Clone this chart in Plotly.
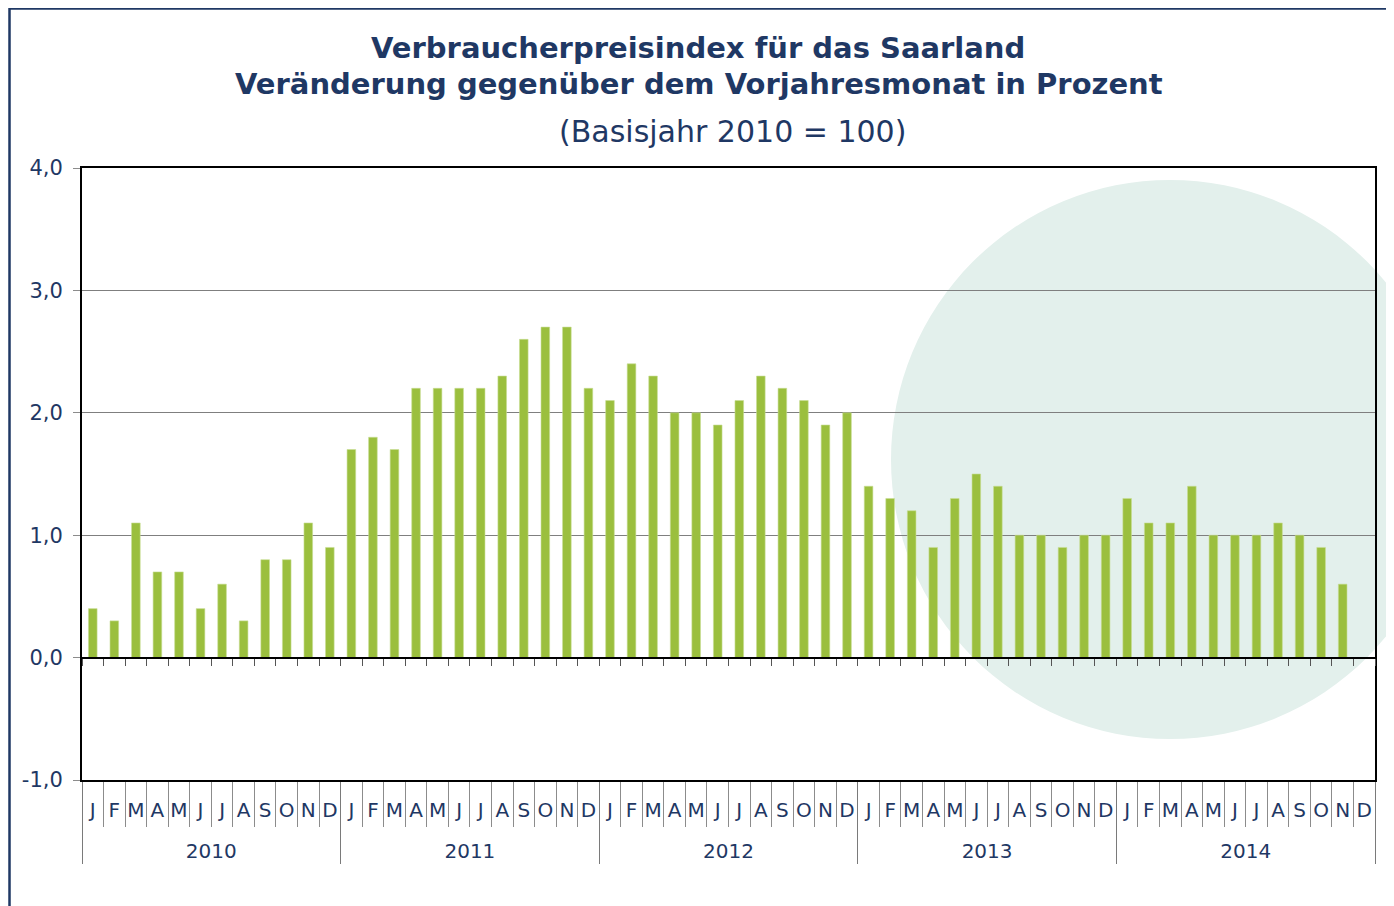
import plotly.graph_objects as go

years = ["2010", "2011", "2012", "2013", "2014"]
months = ["J", "F", "M", "A", "M", "J", "J", "A", "S", "O", "N", "D"]
values = [
    0.4, 0.3, 1.1, 0.7, 0.7, 0.4, 0.6, 0.3, 0.8, 0.8, 1.1, 0.9,   # 2010
    1.7, 1.8, 1.7, 2.2, 2.2, 2.2, 2.2, 2.3, 2.6, 2.7, 2.7, 2.2,   # 2011
    2.1, 2.4, 2.3, 2.0, 2.0, 1.9, 2.1, 2.3, 2.2, 2.1, 1.9, 2.0,   # 2012
    1.4, 1.3, 1.2, 0.9, 1.3, 1.5, 1.4, 1.0, 1.0, 0.9, 1.0, 1.0,   # 2013
    1.3, 1.1, 1.1, 1.4, 1.0, 1.0, 1.0, 1.1, 1.0, 0.9, 0.6, None,  # 2014
]
y_tickvals = [-1, 0, 1, 2, 3, 4]
y_ticktext = ["-1,0", "0,0", "1,0", "2,0", "3,0", "4,0"]

NAVY = "#1F3864"
GREEN = "#9BBF3E"
FONT = "DejaVu Sans"
ZW = "\u200b"

# make repeated month letters distinct categories (invisible suffix);
# an extra empty line pushes the year row down like in the original
seen = {}
month_cats = []
for m in months:
    n = seen.get(m, 0)
    seen[m] = n + 1
    month_cats.append(m + ZW * n + "<br>\u00a0")

x_year = [y for y in years for _ in months]
x_month = [m for _ in years for m in month_cats]
slot_ids = [f"{y}-{i}" for y in years for i in range(12)]

OFF = 8  # page body margin
W, H = 1394 - OFF, 906 - OFF
L, R, T, B = 82 - OFF, 1375 - OFF, 168 - OFF, 780 - OFF
ml, mr, mt, mb = L, W - R, T, H - B
pw, ph = R - L, B - T


def px_x(px):  # page pixel -> paper
    return (px - OFF - L) / pw


def px_y(py):
    return (B - (py - OFF)) / ph


fig = go.Figure()
fig.add_trace(go.Bar(
    x=[x_year, x_month], y=values,
    marker=dict(color=GREEN, line=dict(color="#C8DE94", width=0.6)),
    width=0.4, showlegend=False, hoverinfo="y",
))
# helper trace for the zero-line tick axis
fig.add_trace(go.Scatter(
    x=slot_ids, y=[0] * len(slot_ids), xaxis="x2", mode="markers",
    marker=dict(opacity=0), showlegend=False, hoverinfo="skip",
))

fig.update_layout(
    width=W, height=H,
    margin=dict(l=ml, r=mr, t=mt, b=mb, pad=0),
    paper_bgcolor="white", plot_bgcolor="rgba(0,0,0,0)",
    separators=",.",
    font=dict(family=FONT, color=NAVY),
    xaxis=dict(
        type="multicategory", range=[-0.5, 59.5],
        tickmode="linear", tick0=0, dtick=1,
        showline=True, linecolor="black", linewidth=2, mirror=True,
        ticks="outside", ticklen=45, tickcolor="#8C8C8C", tickwidth=1,
        showdividers=True, dividercolor="#7A7A7A", dividerwidth=1,
        tickfont=dict(size=20, color=NAVY, family=FONT), tickangle=0,
        ticklabelstandoff=11,
        showgrid=False, zeroline=False,
    ),
    xaxis2=dict(
        type="category", overlaying="x", anchor="free",
        position=(B - 658 + OFF) / ph, range=[-0.5, 59.5],
        showticklabels=False, showline=True, linecolor="black", linewidth=2,
        ticks="outside", ticklen=7, tickcolor="#555555", tickwidth=1,
        tickson="boundaries", showgrid=False, zeroline=False,
    ),
    yaxis=dict(
        range=[-1, 4], tickvals=y_tickvals, ticktext=y_ticktext,
        showline=True, linecolor="black", linewidth=2, mirror=True,
        ticks="outside", ticklen=7, tickcolor="#8C8C8C",
        tickfont=dict(size=21, color=NAVY, family=FONT),
        ticklabelstandoff=6,
        showgrid=True, gridcolor="#7F7F7F", gridwidth=1,
        zeroline=False,
    ),
)

shapes = [
    # decorative circle
    dict(type="circle", xref="paper", yref="paper", layer="below",
         x0=px_x(891), x1=px_x(1449), y0=px_y(739), y1=px_y(180),
         fillcolor="#E3F0EC", line=dict(width=0)),
    # mask outside frame
    dict(type="rect", xref="paper", yref="paper", layer="below",
         x0=px_x(1389), x1=px_x(1430), y0=px_y(930), y1=px_y(-20),
         fillcolor="white", line=dict(width=0)),
    # outer frame
    dict(type="rect", xref="paper", yref="paper", layer="above",
         x0=px_x(9.5), x1=px_x(1388), y0=px_y(940), y1=px_y(8.5),
         fillcolor="rgba(0,0,0,0)", line=dict(color=NAVY, width=2.5)),
]
fig.update_layout(shapes=shapes)

annotations = [
    dict(text="<b>Verbraucherpreisindex für das Saarland</b>", x=px_x(698), y=px_y(48),
         font=dict(size=29, color=NAVY, family=FONT)),
    dict(text="<b>Veränderung gegenüber dem Vorjahresmonat in Prozent</b>", x=px_x(699), y=px_y(84),
         font=dict(size=29, color=NAVY, family=FONT)),
    dict(text="(Basisjahr 2010 = 100)", x=px_x(732), y=px_y(131),
         font=dict(size=30, color=NAVY, family=FONT)),
]
for a in annotations:
    a.update(xref="paper", yref="paper", xanchor="center", yanchor="middle", showarrow=False)
fig.update_layout(annotations=annotations)

fig.write_html("out.html")
